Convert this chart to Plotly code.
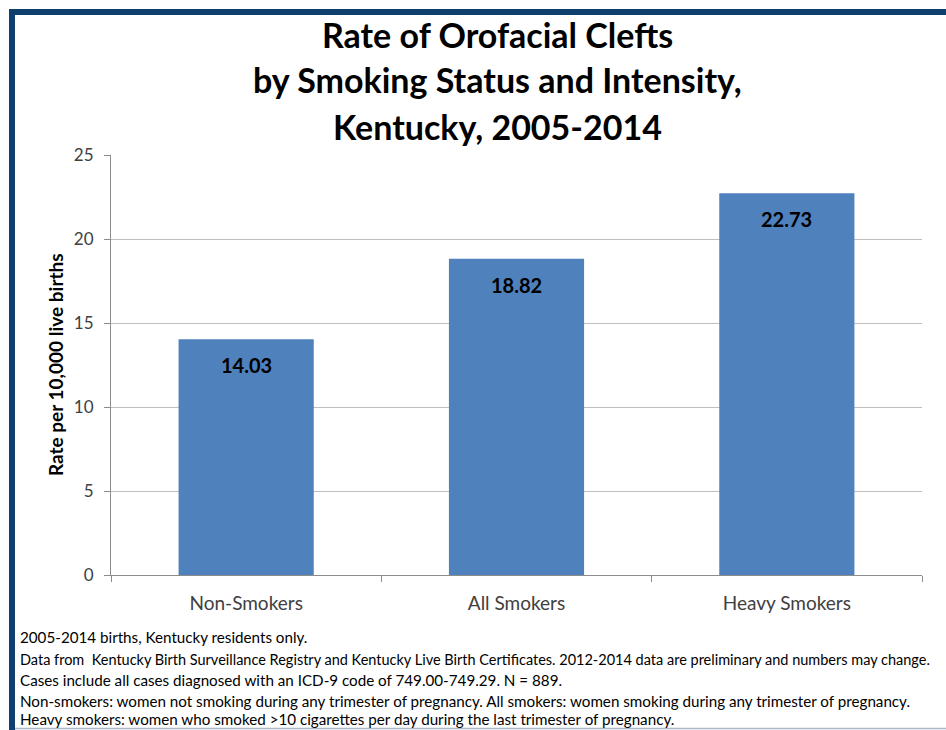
import plotly.graph_objects as go

categories = ["Non-Smokers", "All Smokers", "Heavy Smokers"]
rates = [14.03, 18.82, 22.73]
rate_labels = ["14.03", "18.82", "22.73"]
y_ticks = [0, 5, 10, 15, 20, 25]

title_lines = ["Rate of Orofacial Clefts",
               "by Smoking Status and Intensity,",
               "Kentucky, 2005-2014"]
footnotes = [
    "2005-2014 births, Kentucky residents only.",
    "Data from  Kentucky Birth Surveillance Registry and Kentucky Live Birth Certificates. 2012-2014 data are preliminary and numbers may change.",
    "Cases include all cases diagnosed with an ICD-9 code of 749.00-749.29. N = 889.",
    "Non-smokers: women not smoking during any trimester of pregnancy. All smokers: women smoking during any trimester of pregnancy.",
    "Heavy smokers: women who smoked >10 cigarettes per day during the last trimester of pregnancy.",
]

W, H = 946, 730
L, R, T, B = 111, 24, 155, 155
PW, PH = W - L - R, H - T - B

def px(x):
    return (x - L) / PW

def py(y):
    return (H - B - y) / PH

FONT = "Lato, Open Sans, sans-serif"

fig = go.Figure(go.Bar(
    x=categories, y=rates, marker=dict(color="#4F81BD", line=dict(width=0)),
    width=0.5, hoverinfo="skip"))

annotations = []
for c, v, t in zip(categories, rates, rate_labels):
    annotations.append(dict(x=c, y=v, text=t, showarrow=False, yshift=-26,
                            font=dict(family=FONT, size=20, color="#000000", weight="bold")))

title_y = [35, 80, 126]
for t, yy in zip(title_lines, title_y):
    annotations.append(dict(x=px(497), y=py(yy), xref="paper", yref="paper", text=t,
                            showarrow=False, xanchor="center", yanchor="middle",
                            font=dict(family=FONT, size=34, color="#000000", weight="bold")))

foot_y = [637, 659, 680, 701, 719]
foot_size = [15.2, 14.5, 15.2, 15.2, 15.2]
for t, yy, fs in zip(footnotes, foot_y, foot_size):
    annotations.append(dict(x=px(18), y=py(yy), xref="paper", yref="paper", text=t,
                            showarrow=False, xanchor="left", yanchor="middle",
                            font=dict(family=FONT, size=fs, color="#000000")))

annotations.append(dict(x=px(55), y=py(365), xref="paper", yref="paper",
                        text="Rate per 10,000 live births", textangle=-90, showarrow=False,
                        xanchor="center", yanchor="middle",
                        font=dict(family=FONT, size=19, color="#000000", weight="bold")))

shapes = [
    dict(type="rect", xref="paper", yref="paper", x0=px(9), x1=px(950), y0=py(15), y1=py(9),
         fillcolor="#0F3F6E", line=dict(width=0), layer="above"),
    dict(type="rect", xref="paper", yref="paper", x0=px(9), x1=px(15), y0=py(735), y1=py(9),
         fillcolor="#0F3F6E", line=dict(width=0), layer="above"),
    dict(type="line", xref="paper", yref="paper", x0=px(15), x1=px(950), y0=py(728.5), y1=py(728.5),
         line=dict(color="#A9B6C8", width=1.5)),
]

fig.update_layout(
    width=W, height=H,
    margin=dict(l=L, r=R, t=T, b=B, autoexpand=False),
    paper_bgcolor="#FFFFFF", plot_bgcolor="#FFFFFF",
    showlegend=False, bargap=0.5,
    annotations=annotations, shapes=shapes,
    xaxis=dict(type="category", showline=True, linecolor="#8C8C8C", linewidth=1,
               ticks="outside", tickson="boundaries", ticklen=6, tickcolor="#8C8C8C",
               ticklabelstandoff=11,
               tickfont=dict(family=FONT, size=19, color="#404040"), showgrid=False,
               fixedrange=True),
    yaxis=dict(range=[0, 25], tickvals=y_ticks, showline=True, linecolor="#8C8C8C", linewidth=1,
               ticks="outside", ticklen=6, tickcolor="#8C8C8C", showgrid=True,
               ticklabelstandoff=7,
               gridcolor="#BFBFBF", gridwidth=1, zeroline=False,
               tickfont=dict(family=FONT, size=17, color="#404040"), fixedrange=True),
)

fig.write_html("out.html", config={"displayModeBar": False},
               post_script="document.body.style.margin='0';document.body.style.overflow='hidden';")
